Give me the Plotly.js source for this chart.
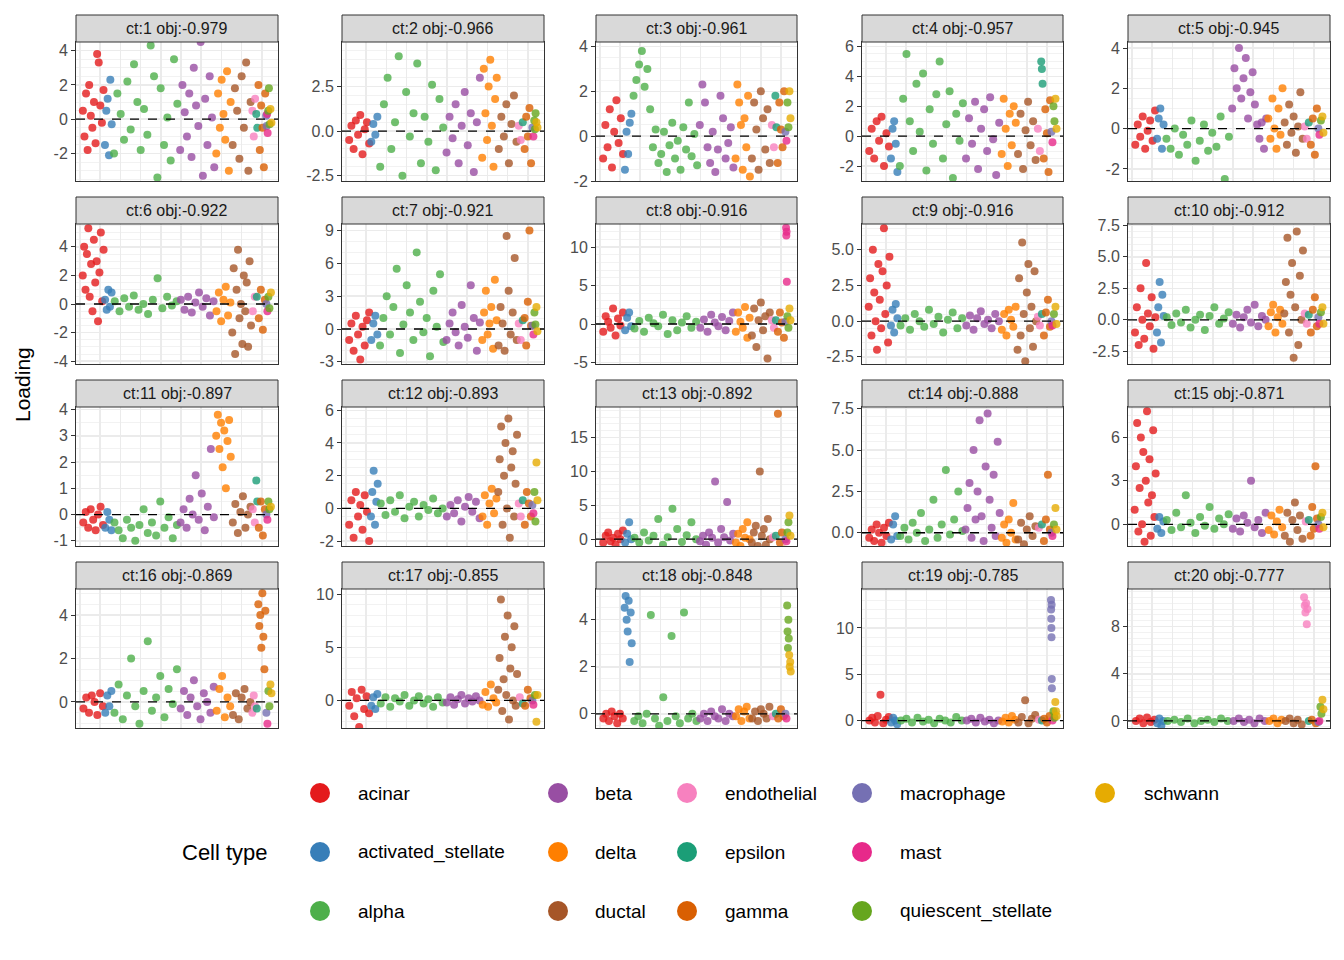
<!DOCTYPE html>
<html><head><meta charset="utf-8">
<script src="https://cdn.plot.ly/plotly-3.0.1.min.js"></script>
<style>body{margin:0}#p{width:1344px;height:960px}</style></head>
<body><div id="p"></div>
<script>
const cellTypes=["acinar","activated_stellate","alpha","beta","delta","ductal","endothelial","epsilon","gamma","macrophage","mast","quiescent_stellate","schwann"];
const colors=["#E41A1C","#377EB8","#4DAF4A","#984EA3","#FF7F00","#A65628","#F781BF","#1B9E77","#D95F02","#7570B3","#E7298A","#66A61E","#E6AB02"];
const panelTitles=["ct:1 obj:-0.979","ct:2 obj:-0.966","ct:3 obj:-0.961","ct:4 obj:-0.957","ct:5 obj:-0.945","ct:6 obj:-0.922","ct:7 obj:-0.921","ct:8 obj:-0.916","ct:9 obj:-0.916","ct:10 obj:-0.912","ct:11 obj:-0.897","ct:12 obj:-0.893","ct:13 obj:-0.892","ct:14 obj:-0.888","ct:15 obj:-0.871","ct:16 obj:-0.869","ct:17 obj:-0.855","ct:18 obj:-0.848","ct:19 obj:-0.785","ct:20 obj:-0.777"];
const yRanges=[[-3.6,4.5],[-2.8,5],[-2,4.2],[-3,6.3],[-2.6,4.3],[-4.2,5.6],[-3.2,9.6],[-5.2,13],[-3,6.8],[-3.5,7.6],[-1.2,4.1],[-2.3,6.2],[-1,19.5],[-0.8,7.6],[-1.5,8.1],[-1.2,5.2],[-2.6,10.5],[-0.6,5.3],[-0.8,14.2],[-0.6,11.2]];
const yTicks=[["-2","0","2","4"],["-2.5","0.0","2.5"],["-2","0","2","4"],["-2","0","2","4","6"],["-2","0","2","4"],["-4","-2","0","2","4"],["-3","0","3","6","9"],["-5","0","5","10"],["-2.5","0.0","2.5","5.0"],["-2.5","0.0","2.5","5.0","7.5"],["-1","0","1","2","3","4"],["-2","0","2","4","6"],["0","5","10","15"],["0.0","2.5","5.0","7.5"],["0","3","6"],["0","2","4"],["0","5","10"],["0","2","4"],["0","5","10"],["0","4","8"]];
const groupStart=[0.03,0.14,0.18,0.51,0.69,0.77,0.87,0.89,0.90,0.94,0.945,0.95,0.96];
const groupEnd=[0.14,0.18,0.51,0.69,0.77,0.87,0.89,0.90,0.94,0.945,0.95,0.96,0.97];

const acinar=[[0.5,-1,1.5,-1.8,2,0.2,-0.5,1,-1.4,3.8,3.3,0.8,-0.2,1.7],[-0.5,0.3,-1,0.6,-0.2,0.9,-1.3,0.1,0.5,-0.7],[-1,0.5,-0.5,1.2,-1.4,0.2,1.6,-0.3,0.8,-0.8],[-1,0.5,-1.5,1,-0.3,1.3,-2,0.2,-0.7],[-0.8,0.2,-0.4,0.6,-1,-0.1,0.4,-0.6,0.9],[2,4,1,3.5,5.3,0.5,2.8,-0.5,4.5,1.5,3,-1.2,2.2,5,0.2,3.8],[-1,0.5,-2,1.2,-0.5,-2.8,0.2,-1.5,0.8,1.5],[-1,1,0.3,-0.5,2,-1.5,0.7,-0.2,1.5],[1,3,-1,5,2,0,-2,4,1.5,-0.5,3.5,6.5,0.5,2.5,-1.5,4.5],[-1,1,-2,2.5,0,-1.5,4.5,0.5,-0.5,1.8,-2.3,0.2],[-0.3,0.1,-0.5,0.2,-0.2,-0.6,0,0.3,-0.4],[-1,0.5,-1.8,1,-0.5,0.2,-1.3,0.8,-0.2,-2],[-0.5,0.5,1,-0.3,0.2,-0.8,0.8,0,1.3],[-0.3,0.2,-0.5,0.5,0,-0.6,0.3,-0.2,0.6],[1,4,7,-0.5,2.5,6,0,5,-1.2,3,7.8,1.5,4.5,-0.8,2,6.5,0.5,3.5],[-0.3,0.2,-0.5,0.3,0,-0.6,0.4,-0.2],[-0.5,0.8,-1.5,0.2,-2.5,1,-0.8,0.4,-1.2],[-0.2,0,-0.3,0.1,-0.1,-0.4,0,-0.2],[0,0.3,-0.2,0.5,2.8,-0.3,0.1,0.4],[0,0.2,-0.2,0.3,-0.1,0.1]];
const activatedStellate=[[-1.5,0.5,1.2,-2.1,2.3,-0.3],[-0.6,0.4,-0.2,0.8],[-1.5,0.2,-0.8,0.6,1],[-1.5,0.5,1,-0.5,-2.4],[-0.5,0.5,1,-1,0.2],[0.3,-0.4,1,-0.2,0.8],[-1,0.5,1.2,-0.5],[-0.8,0.8,1.5,-0.3],[-0.3,0.8,-0.8,1.2,0.2],[-1,1,3,-1.8,2,0.3],[-0.5,0.1,-0.2,-0.6],[-0.5,1,2.3,-1,0.4,1.5],[-0.5,0.8,2.5,0],[-0.4,0.5,1,-0.2],[-0.3,0.5,-0.6,0.2],[-0.5,0.3,-0.2,0.5],[-0.5,0.3,-0.8,0.6],[4.5,5,4,3.5,4.8,2.2,4.3,3],[-0.2,0.3,0,-0.4],[-0.2,0.2,-0.4,0]];
const alpha=[[-2,1.5,0.3,-1.2,2.2,-0.6,3.2,1,-1.8,0.6,-0.9,4.3,2.5,-3.4,1.8,-1.5,0.1,-2.4,3.5,0.9],[-2,1.5,3,-1,0.5,4.2,-2.5,2.2,-0.3,1,3.8,-1.8,0.8,-0.6,2.6,-2.2,1.8,0.2],[1.8,2.5,3.2,3.8,2.2,3,1.2,-0.5,0.3,-1.2,-0.8,0.2,-1.6,-0.4,0.6,-1,-0.2,-1.5,0.4,-0.6,1.5,-0.9,0.1,-1.3],[-2,2.5,5.5,1,-1,3.5,0.3,4.2,-2.3,1.8,-0.5,2.8,5,-1.5,0.8,3,-2.8,1.5,-0.3,2.2],[-0.5,-1,0,-1.3,-0.3,-0.8,0.4,-1.6,-0.6,0.2,-1.1,-0.2,-0.9,0.6,-2.5,-0.4],[0.2,-0.5,0.4,-0.2,0.6,-0.4,0,-0.7,0.3,1.8,-0.3,0.5,-0.1,0.2],[-1.5,1,3,-0.5,2,5.5,-2.2,0.4,4,1.5,-1,7,2.5,-0.3,1,-2.5,3.5,0.2,5,-1.2],[-0.6,0.4,-1,0.8,0.1,-0.3,1.2,-1.3,0.5,-0.8,0.2,1,-0.5,0.3],[-0.3,0.2,-0.6,0.5,0,-0.4,0.8,-0.2,0.3,-0.8,0.1,0.6,-0.5,0.2],[0.2,-0.4,0.5,-0.2,0.8,-0.6,0,0.4,-0.8,0.3,1,-0.3,0.1,0.6],[-0.3,-0.6,-0.9,-0.2,-0.5,-1,-0.4,0.2,-0.7,-0.3,-0.8,0.5,-0.5,-0.1,-0.9,-0.4],[0.3,-0.4,0.5,-0.2,0.8,-0.6,0.1,0.4,-0.5,0.2,-0.1,0.6,-0.3,0],[0.2,-0.5,1,-0.2,0.5,3,-0.8,0.3,4.5,1.5,-0.4,0.6,2.5,0],[-0.2,0.3,-0.4,0.6,0,1.2,-0.5,0.2,2,-0.3,0.5,3.8,-0.1,0.8,2.5,0.1],[0.3,-0.4,0.8,-0.2,2,0.1,-0.6,0.5,-0.1,1.2,-0.3,0.4,0,0.7],[-0.5,0.8,-0.8,0.3,2,-0.2,-1,0.5,2.8,-0.4,0.2,1.2,-0.7,0.6,-0.1,1.5],[-0.3,0.3,-0.6,0.2,-0.1,0.5,-0.5,0,0.4,-0.3,0.1,-0.6,0.3,-0.2],[-0.3,-0.1,-0.4,0,4.2,-0.2,-0.5,0.7,-0.3,3.3,-0.1,-0.4,4.3,-0.2,0,-0.3],[0,0.2,-0.2,0.3,-0.1,0.1,-0.3,0.2,0,-0.2,0.4,0],[0,0.1,-0.1,0.2,-0.2,0,0.1,-0.1,0.2,0]];
const beta=[[-1.8,2,0.4,-1,1.5,-2.2,3,0.8,-0.4,4.5,-3.3,1.2,-1.5,2.5,0.1,-2.8],[-1.2,0.8,-0.4,1.5,-1.8,0.3,2.2,-0.8,1,-2.3,0.5,3],[0.5,2.3,1.5,-0.5,-1.2,0.2,-1.6,-0.6,1.8,0.8,-1,-0.3,0.4,-1.4],[-1.5,1.2,-0.5,2.3,-2.2,0.5,1.8,-1,2.6,-0.2,-2.6,0.9],[1,3,2,4,1.5,2.5,3.5,0.5,1.8,2.8,1.2,0.2,-0.5,0.3,-1,0.5],[0.3,-0.4,0.5,-0.6,0.1,0.8,-0.2,0.4,-0.8,0.2],[-1,0.5,1.5,-0.3,-1.5,2.2,0.2,-0.8,4,1,-2,0.6],[-0.5,0.6,-1,1.2,0.2,-0.3,0.9,-0.8,0.4,1.5],[-0.3,0.4,-0.6,0.2,0.7,-0.2,0.1,-0.5,0.5,0],[-0.3,0.4,-0.6,0.2,0.8,-0.2,1.2,-0.5,0.3,0],[-0.3,0.2,-0.5,0.6,0,1.5,-0.2,0.8,-0.6,0.3,2.5,-0.1],[-0.5,0.2,-0.3,0.5,-0.8,0.1,0.7,-0.2,0.4,-0.6],[-0.3,0.5,-0.8,1,0.2,8.5,-0.5,1.5,0.3,5.5,-0.2,0.8],[0.2,1.5,3,-0.3,5,0.8,2.5,6.8,1,-0.5,4,7.2,2,0.3,3.5,-0.2,5.5,1.2],[-0.3,0.4,-0.5,0.6,0.1,3,-0.2,0.3,-0.6,0.8],[-0.3,0.5,-0.6,0.2,1,-0.2,-0.8,0.4,0,-0.5,0.7],[-0.2,0.3,-0.4,0.1,0.5,-0.3,0.2,-0.1,0.4,0],[-0.2,0,-0.3,0.1,-0.1,-0.2,0.2,-0.3,0,-0.1],[0,0.2,-0.2,0.3,-0.1,0.1,-0.3,0],[0,0.2,-0.1,0.1,-0.2,0.2,0]];
const delta=[[-2,1.5,-0.5,2.3,0.3,-1.2,2.8,-3,1],[-1.5,3.5,1,-0.5,2.5,4,0.3,-2,1.8,3],[-1,2.3,1.5,0.5,-1.5,0.8,-0.5,1.8,-1.8],[-1.2,2.5,0.5,-2,1.5,-0.6,2,0.9],[0.5,-0.5,1.5,0,-1,1,-0.3,2],[-0.5,0.8,-1.2,0.3,1.2,-0.8,0.1],[-1,1.5,3.5,-0.5,0.5,2,-1.8,4.5,0.8],[-1,1.5,0.3,-0.5,2.2,-1.8,0.8],[-0.6,0.5,-1,0.8,0.1,-0.4,1],[-0.5,0.6,1.2,-1,0.2,0.8,-0.3],[3,3.8,2.5,3.5,1.8,3.2,1,2.8,3.6,2.2],[-0.5,0.8,-1,0.3,1.2,-0.3,0.6],[-0.5,0.8,-1,1.5,0.2,2.5,0],[-0.3,0.5,-0.6,0.8,0,1.8,-0.4],[-0.4,0.6,-0.7,0.2,1,-0.2],[-0.4,0.6,1.2,-0.7,0.2,-0.2],[-0.4,0.8,-0.6,1.5,0.2,-0.2],[-0.1,0.2,-0.3,0.1,0.3,-0.2],[-0.1,0.3,-0.2,0.5,0.1],[0,0.2,-0.2,0.1]];
const ductal=[[-1.5,1.8,0.5,-2.3,2.5,-0.5,3.3,-3,1],[-1,0.8,-0.3,1.5,-1.8,0.4,2,-0.6],[-1,1.5,0.3,-1.5,2,0.8,-0.6,1.2,-1.2],[-1.2,1.5,-2.2,0.4,2.3,-0.6,1,-1.6],[0.3,-0.8,1.2,-0.2,0.6,-1.2,0.1,1.8,-0.5],[-2,2.5,-3.5,1,3.8,-1,0,-2.8,2,-0.5,1.5,-3,3,-1.5],[-1.5,2,0.5,-2,8.5,3.5,-0.5,1.5,6.5,-1],[-1.5,2,-3,0.5,2.8,-0.8,1,-4.5,1.5],[-2,3,-1,5.5,0.5,-2.8,2,4,-0.5,1,-1.8,3.5,0],[0.5,3,6.5,-1,2,4.5,-3,1,7,-2,3.5,0,5.5],[-0.3,0.4,-0.7,0.1,0.7,-0.5,0,0.3],[1,3,5,-1,2,4,0,5.5,-1.8,2.5,3.5,-0.5,1.5,4.5],[-0.5,1,2,-1,10,0.5,1.5,-0.8,3,0],[-0.4,0.6,-0.7,0.2,1,-0.2,0.4],[-0.8,0.8,-1.2,0.3,1.5,-0.4,0.6,-1],[-0.6,0.4,-0.8,0.2,0.6,-0.3,0],[1,4,9.5,-1,2,6,0.5,8,-1.8,3,5,0,7,-0.5,2.5],[-0.2,0.1,-0.3,0.2,0,-0.2,0.3],[-0.2,0.4,2.2,-0.3,0.2,0.6],[0,0.2,-0.2,0.1,-0.3]];
const endothelial=[[0.5,-1,1.2],[0.3,-0.5],[0.5,-0.5],[0.5,-1],[0.1,-0.5],[-0.5,0.5],[0.5,-1],[0.5,-0.5],[0.3,-0.3],[0.5,-0.3],[0.2,-0.3],[0.3,-0.5],[0.3],[0.3],[0.2],[-0.5,0.3,-0.2],[0.3],[-0.1],[0.1],[10.5,9.8,9.2,10,8.2,9.5]];
const epsilon=[[0.3,-0.5],[0.5],[1.8,0.4],[5,4.5,3.5],[0.3],[0.5],[0.8],[0.5],[0.5],[0.4],[1.3,0.5],[0.5],[0.5],[0.5],[0.3],[-0.3],[-0.3],[0],[0],[0]];
const gamma=[[2,-1.8,0.8,-0.5,-2.8,1.5],[-1,0.8,-0.3,1.3,-1.8],[-1.2,1.5,0.3,-0.5,2],[-1.5,1.8,0.2,-2.4,2.4],[-0.8,0.5,-1.3,1],[-1,1,-1.8,0.3],[1,-1.5,2.5,9,0.3],[-1,1.5,0.2,-1.8],[-1,0.6,1.5,-0.4],[-1,0.8,1.8,-0.5],[-0.5,0.5,-0.8,0.2],[-1,1,0.3,-0.5],[18.5,-0.5,1,-1.5],[-0.5,0.8,3.5,0.2],[-0.8,1.2,-0.3,4,0.4],[4.5,3.5,4,2.5,5,3,1.5,4.2],[-0.5,1,0.2],[-0.2,0.2,-0.1],[0.2,-0.2,0.5],[0.1,-0.2]];
const macrophage=[[0.2,-0.4],[0.2],[0.2],[0.3],[0],[0],[0.3],[0.3],[0],[0.2],[0],[0.2],[0],[0],[0],[-0.5],[0],[0],[13,12,11,10,9,12.5,4.5,3.5],[-0.1]];
const mast=[[0.3,-0.8],[-0.3],[-0.2],[-0.4],[-0.3],[-0.5],[-0.5],[12.5,11.5,12,5.5],[-0.3],[-0.3],[-0.2],[-0.3],[-0.3],[-0.2],[-0.3],[-1],[-0.4],[-0.2],[0],[0]];
const quiescentStellate=[[0.5,1.8,-0.3],[0.6,0.1,1],[1.5,0.4],[2,1],[0.4],[0.5,-0.3],[1.5,0.4],[1,-0.5],[0.5],[0.6],[0.5,0.2],[1,-0.8],[1,2.5],[0.5],[0.5],[0.5,-0.2],[0.5],[4.6,3.5,2.8,4,3.2],[1,0.3],[1.2,0.6]];
const schwann=[[0.6,-0.2],[0.5,0.2],[2,0.8],[2.5,0.5],[0.6,-0.2],[0.8],[2,-0.2],[2,0.5],[1,-0.2],[1,-0.3],[0.3],[2.8,0.5],[3.5,0.5],[1.5,0.2],[0.8,-0.2],[0.8,0.4],[-2,0.5],[2.5,2,2.2,1.8],[2,1,0.5],[1.8,1]];
const seriesByType=[acinar,activatedStellate,alpha,beta,delta,ductal,endothelial,epsilon,gamma,macrophage,mast,quiescentStellate,schwann];

const W=1344,H=960;
const colPx=[[76,278],[342,544],[596,797],[862,1063],[1128,1330]];
const rowPx=[[42,181],[224,364],[407,546],[589,728]];
const traces=[],layout={width:W,height:H,margin:{l:0,r:0,t:0,b:0},showlegend:false,paper_bgcolor:"white",plot_bgcolor:"white",
  font:{family:"Liberation Sans, Arial",color:"#4D4D4D"},shapes:[],annotations:[]};
for(let p=0;p<20;p++){
  const r=Math.floor(p/5),c=p%5,k=p+1;
  const xa="xaxis"+(k===1?"":k),ya="yaxis"+(k===1?"":k);
  const xn="x"+(k===1?"":k),yn="y"+(k===1?"":k);
  const tv=yTicks[p].map(Number);
  layout[xa]={domain:[colPx[c][0]/W,colPx[c][1]/W],range:[0,1],anchor:yn,showticklabels:false,ticks:"",dtick:0.1,tick0:0.02,
    showgrid:true,gridcolor:"#EBEBEB",gridwidth:1.5,zeroline:false,showline:true,mirror:true,linecolor:"#333333",linewidth:1};
  layout[ya]={domain:[1-rowPx[r][1]/H,1-rowPx[r][0]/H],range:yRanges[p],anchor:xn,tickvals:tv,ticktext:yTicks[p],
    ticks:"outside",ticklen:4,tickcolor:"#333333",tickfont:{size:16,color:"#4D4D4D"},
    showgrid:true,gridcolor:"#EBEBEB",gridwidth:1.5,minor:{showgrid:true,gridcolor:"#F2F2F2",gridwidth:1},
    zeroline:false,showline:true,mirror:true,linecolor:"#333333",linewidth:1};
  for(let g=0;g<13;g++){
    const vals=seriesByType[g][p],n=vals.length,a=groupStart[g],b=groupEnd[g];
    const xs=vals.map((v,i)=>n===1?(a+b)/2:a+(b-a)*(i+0.5)/n);
    traces.push({type:"scatter",mode:"markers",x:xs,y:vals,xaxis:xn,yaxis:yn,
      marker:{color:colors[g],size:8,opacity:0.8},hoverinfo:"skip"});
  }
  layout.shapes.push({type:"line",xref:xn+" domain",yref:yn,x0:0,x1:1,y0:0,y1:0,line:{color:"black",width:1.3,dash:"dash"},layer:"above"});
  layout.shapes.push({type:"rect",xref:"paper",yref:"paper",x0:colPx[c][0]/W,x1:colPx[c][1]/W,y0:1-rowPx[r][0]/H,y1:1-(rowPx[r][0]-27)/H,
    fillcolor:"#D9D9D9",line:{color:"#333333",width:1}});
  layout.annotations.push({xref:"paper",yref:"paper",x:(colPx[c][0]+colPx[c][1])/2/W,y:1-(rowPx[r][0]-13.5)/H,text:panelTitles[p],
    showarrow:false,font:{size:16,color:"#1A1A1A"},xanchor:"center",yanchor:"middle"});
}
layout.annotations.push({xref:"paper",yref:"paper",x:22/W,y:1-385/H,text:"Loading",textangle:-90,showarrow:false,xanchor:"center",yanchor:"middle",font:{size:21,color:"black"}});
layout.annotations.push({xref:"paper",yref:"paper",x:180/W,y:1-852/H,text:"Cell type",xanchor:"left",yanchor:"middle",showarrow:false,font:{size:22,color:"black"}});
const legCx=[320,558,687,862,1105],legTx=[356,593,723,898,1142],legRy=[793,852,911];
cellTypes.forEach((ct,i)=>{
  const c=Math.floor(i/3),r=i%3;
  const cx=legCx[c],cy=legRy[r];
  layout.shapes.push({type:"circle",xref:"paper",yref:"paper",x0:(cx-10)/W,x1:(cx+10)/W,y0:1-(cy+10)/H,y1:1-(cy-10)/H,fillcolor:colors[i],line:{width:0}});
  layout.annotations.push({xref:"paper",yref:"paper",x:legTx[c]/W,y:1-cy/H,text:ct,xanchor:"left",yanchor:"middle",showarrow:false,font:{size:19,color:"black"}});
});
Plotly.newPlot("p",traces,layout,{staticPlot:true});
</script></body></html>
